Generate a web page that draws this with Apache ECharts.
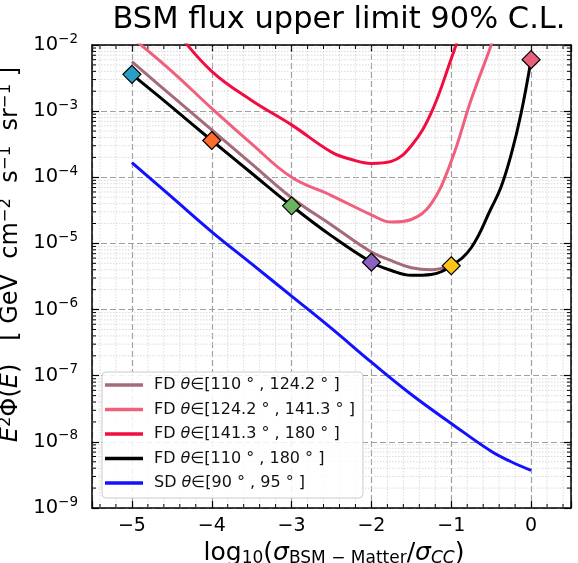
<!DOCTYPE html>
<html>
<head>
<meta charset="utf-8">
<title>BSM flux upper limit</title>
<script src="https://cdn.jsdelivr.net/npm/echarts@6/dist/echarts.min.js"></script>
<style>
  html, body { margin: 0; padding: 0; background: #fff; }
  #chart { width: 578px; height: 563px; }
</style>
</head>
<body>
<div id="chart"></div>
<script>
const FONT = 'DejaVu Sans'

// x = log10(sigma_BSM-Matter / sigma_CC), y = E^2 Phi(E) [GeV cm^-2 s^-1 sr^-1]
const brownX = [-5, -4.5, -4, -3.5, -3, -2.5, -2, -1.75, -1.5, -1.25, -1]
const brownY = [5.6e-3, 1.7e-3, 5.2e-4, 1.6e-4, 4.9e-5, 1.9e-5, 7.4e-6, 5.5e-6, 4.3e-6, 4.0e-6, 4.7e-6]

const pinkX = [-5, -4.5, -4, -3.5, -3, -2.5, -2, -1.75, -1.5, -1.25, -1, -0.75, -0.5, -0.4]
const pinkY = [1.3e-2, 4.0e-3, 1.1e-3, 3.2e-4, 1.0e-4, 5.3e-5, 2.7e-5, 2.1e-5, 2.3e-5, 4.0e-5, 1.75e-4, 1.5e-3, 1.0e-2, 2.5e-2]

const redX = [-5, -4.5, -4, -3.5, -3, -2.5, -2.25, -2, -1.75, -1.5, -1.25, -1, -0.9]
const redY = [7.9e-2, 1.86e-2, 4.0e-3, 1.45e-3, 6.2e-4, 2.4e-4, 1.86e-4, 1.62e-4, 1.74e-4, 3.0e-4, 9.5e-4, 6.2e-3, 1.4e-2]

const blackX = [-5, -4.5, -4, -3.5, -3, -2.5, -2, -1.75, -1.5, -1.25, -1, -0.75, -0.5, -0.375, -0.25, -0.125, 0]
const blackY = [3.6e-3, 1.15e-3, 3.6e-4, 1.15e-4, 3.7e-5, 1.3e-5, 5.2e-6, 3.9e-6, 3.3e-6, 3.4e-6, 4.6e-6, 8.6e-6, 3.4e-5, 7.2e-5, 2.2e-4, 9.3e-4, 6.0e-3]

const blueX = [-5, -4.5, -4, -3.5, -3, -2.5, -2, -1.5, -1, -0.5, -0.25, 0]
const blueY = [1.66e-4, 5.0e-5, 1.5e-5, 4.9e-6, 1.6e-6, 5.2e-7, 1.6e-7, 5.2e-8, 1.9e-8, 7.2e-9, 5.0e-9, 3.7e-9]

const markerX = [-5, -4, -3, -2, -1, 0]
const markerY = [3.6e-3, 3.6e-4, 3.7e-5, 5.2e-6, 4.6e-6, 6.0e-3]
const markerColors = ['#2a9fc4', '#ff6b2b', '#6bb35e', '#8b63bf', '#ffc415', '#e9607c']

const seriesNames = [
  'FD θ∈[110 ° , 124.2 ° ]',
  'FD θ∈[124.2 ° , 141.3 ° ]',
  'FD θ∈[141.3 ° , 180 ° ]',
  'FD θ∈[110 ° , 180 ° ]',
  'SD θ∈[90 ° , 95 ° ]'
]
const lineColors = ['#a56b78', '#f0607e', '#f20c40', '#000000', '#1212ff']

const xMin = -5.5, xMax = 0.5
const yMin = 1e-9, yMax = 1e-2

// minor tick positions (axis decoration)
const xMinor = []
for (let i = -27; i <= 2; i++) {
  if (i % 5 !== 0) xMinor.push(Math.round(i * 0.2 * 10) / 10)
}
const yMinor = []
for (let e = -9; e <= -3; e++) {
  for (let m = 2; m <= 9; m++) yMinor.push(m * Math.pow(10, e))
}

const zip = (xs, ys) => xs.map((x, i) => [x, ys[i]])

const chart = echarts.init(document.getElementById('chart'), null, { renderer: 'canvas' })

const lineData = [
  zip(brownX, brownY),
  zip(pinkX, pinkY),
  zip(redX, redY),
  zip(blackX, blackY),
  zip(blueX, blueY)
]

const lineSeries = lineData.map((d, i) => ({
  name: seriesNames[i],
  type: 'line',
  data: d,
  showSymbol: false,
  symbol: 'none',
  smooth: 0.4,
  clip: true,
  z: 3,
  lineStyle: { color: lineColors[i], width: 3 },
  itemStyle: { color: lineColors[i] }
}))

function minorY(params, api) {
  const cs = params.coordSys
  const y = api.coord([xMin, api.value(1)])[1]
  return {
    type: 'group',
    children: [
      { type: 'line', shape: { x1: cs.x, y1: y, x2: cs.x + cs.width, y2: y },
        style: { stroke: '#d2d2d2', lineWidth: 0.8, lineDash: [1.5, 1.5] } },
      { type: 'line', shape: { x1: cs.x, y1: y, x2: cs.x + 4, y2: y },
        style: { stroke: '#000', lineWidth: 1 } },
      { type: 'line', shape: { x1: cs.x + cs.width - 4, y1: y, x2: cs.x + cs.width, y2: y },
        style: { stroke: '#000', lineWidth: 1 } }
    ]
  }
}

function minorX(params, api) {
  const cs = params.coordSys
  const x = api.coord([api.value(0), 1e-5])[0]
  return {
    type: 'group',
    children: [
      { type: 'line', shape: { x1: x, y1: cs.y, x2: x, y2: cs.y + cs.height },
        style: { stroke: '#d2d2d2', lineWidth: 0.8, lineDash: [1.5, 1.5] } },
      { type: 'line', shape: { x1: x, y1: cs.y + cs.height, x2: x, y2: cs.y + cs.height - 4 },
        style: { stroke: '#000', lineWidth: 1 } },
      { type: 'line', shape: { x1: x, y1: cs.y, x2: x, y2: cs.y + 4 },
        style: { stroke: '#000', lineWidth: 1 } }
    ]
  }
}

const frameLine = { show: true, onZero: false, lineStyle: { color: '#000', width: 1.5 } }
const majorTick = { show: true, inside: true, length: 7, lineStyle: { color: '#000', width: 1.2 } }
const majorGrid = { show: true, lineStyle: { color: '#a0a0a0', width: 1.2, type: [6, 3] } }

chart.setOption({
  animation: false,
  backgroundColor: '#fff',
  title: {
    text: 'BSM flux upper limit 90% C.L.',
    left: 334,
    top: 0,
    textAlign: 'center',
    textStyle: { fontFamily: FONT, fontSize: 30.5, fontWeight: 'normal', color: '#000' }
  },
  grid: { left: 92, right: 7, top: 45, bottom: 55, containLabel: false, outerBoundsMode: 'none' },
  legend: {
    data: seriesNames,
    orient: 'vertical',
    left: 102,
    top: 372,
    icon: 'rect',
    itemWidth: 38,
    itemHeight: 3.5,
    itemGap: 8.5,
    padding: [5, 8, 7, 3],
    backgroundColor: 'rgba(255,255,255,0.85)',
    borderColor: '#cccccc',
    borderWidth: 1,
    borderRadius: 4,
    formatter: name => name.replace('θ', '{it|θ}'),
    textStyle: {
      fontFamily: FONT, fontSize: 16, color: '#111', lineHeight: 16, padding: [0, 0, 0, 6],
      rich: { it: { fontFamily: FONT, fontSize: 16, fontStyle: 'italic', color: '#111' } }
    }
  },
  xAxis: [{
    type: 'value',
    min: xMin,
    max: xMax,
    splitNumber: 6,
    position: 'bottom',
    axisLine: frameLine,
    axisTick: majorTick,
    splitLine: majorGrid,
    axisLabel: {
      fontFamily: FONT, fontSize: 19, color: '#000', margin: 9,
      formatter: v => Math.abs(v - Math.round(v)) > 1e-6 ? '' : (v < 0 ? '−' + Math.abs(v) : String(v))
    },
    name: '{t|log}{sub|10}{t|(}{it|σ}{sub|BSM − Matter}{t|/}{it|σ}{subi|CC}{t|)}',
    nameLocation: 'middle',
    nameGap: 21,
    nameTextStyle: {
      color: '#000',
      padding: [0, 0, 0, 5],
      rich: {
        t: { fontFamily: FONT, fontSize: 25, lineHeight: 28, color: '#000' },
        it: { fontFamily: FONT, fontSize: 25, lineHeight: 28, fontStyle: 'italic', color: '#000' },
        sub: { fontFamily: FONT, fontSize: 17, lineHeight: 17, verticalAlign: 'bottom', color: '#000' },
        subi: { fontFamily: FONT, fontSize: 17, lineHeight: 17, verticalAlign: 'bottom', fontStyle: 'italic', color: '#000' }
      }
    }
  }, {
    type: 'value',
    min: xMin,
    max: xMax,
    splitNumber: 6,
    position: 'top',
    axisLine: frameLine,
    axisTick: majorTick,
    splitLine: { show: false },
    axisLabel: { show: false }
  }],
  yAxis: [{
    type: 'log',
    logBase: 10,
    min: yMin,
    max: yMax,
    interval: 1,
    position: 'left',
    axisLine: frameLine,
    axisTick: majorTick,
    splitLine: majorGrid,
    axisLabel: {
      margin: 14,
      formatter: v => '{b|10}{s|−' + Math.abs(Math.round(Math.log10(v))) + '}',
      rich: {
        b: { fontFamily: FONT, fontSize: 19.5, lineHeight: 26, color: '#000' },
        s: { fontFamily: FONT, fontSize: 13.5, lineHeight: 13, verticalAlign: 'top', color: '#000' }
      }
    },
    name: '{it|E}{sup|2}{t|Φ(}{it|E}{t|)   [ GeV  cm}{sup|−2}{t|  s}{sup|−1}{t|  sr}{sup|−1}{t| ]}',
    nameLocation: 'middle',
    nameRotate: 90,
    nameGap: 64,
    nameTextStyle: {
      color: '#000',
      padding: [0, 0, 0, 44],
      rich: {
        t: { fontFamily: FONT, fontSize: 24, lineHeight: 26, color: '#000' },
        it: { fontFamily: FONT, fontSize: 24, lineHeight: 26, fontStyle: 'italic', color: '#000' },
        sup: { fontFamily: FONT, fontSize: 16.5, lineHeight: 16, verticalAlign: 'top', color: '#000' }
      }
    }
  }, {
    type: 'log',
    logBase: 10,
    min: yMin,
    max: yMax,
    interval: 1,
    position: 'right',
    axisLine: frameLine,
    axisTick: majorTick,
    splitLine: { show: false },
    axisLabel: { show: false }
  }],
  series: [
    {
      type: 'custom',
      name: 'minorY',
      silent: true,
      z: 1,
      renderItem: minorY,
      data: yMinor.map(v => [xMin, v])
    },
    {
      type: 'custom',
      name: 'minorX',
      silent: true,
      z: 1,
      renderItem: minorX,
      data: xMinor.map(v => [v, 1e-5])
    },
    ...lineSeries,
    {
      type: 'scatter',
      name: 'markers',
      symbol: 'diamond',
      symbolSize: 18,
      z: 5,
      data: markerX.map((x, i) => ({
        value: [x, markerY[i]],
        itemStyle: { color: markerColors[i], opacity: 1, borderColor: '#000', borderWidth: 1.2 }
      }))
    }
  ]
})
</script>
</body>
</html>
